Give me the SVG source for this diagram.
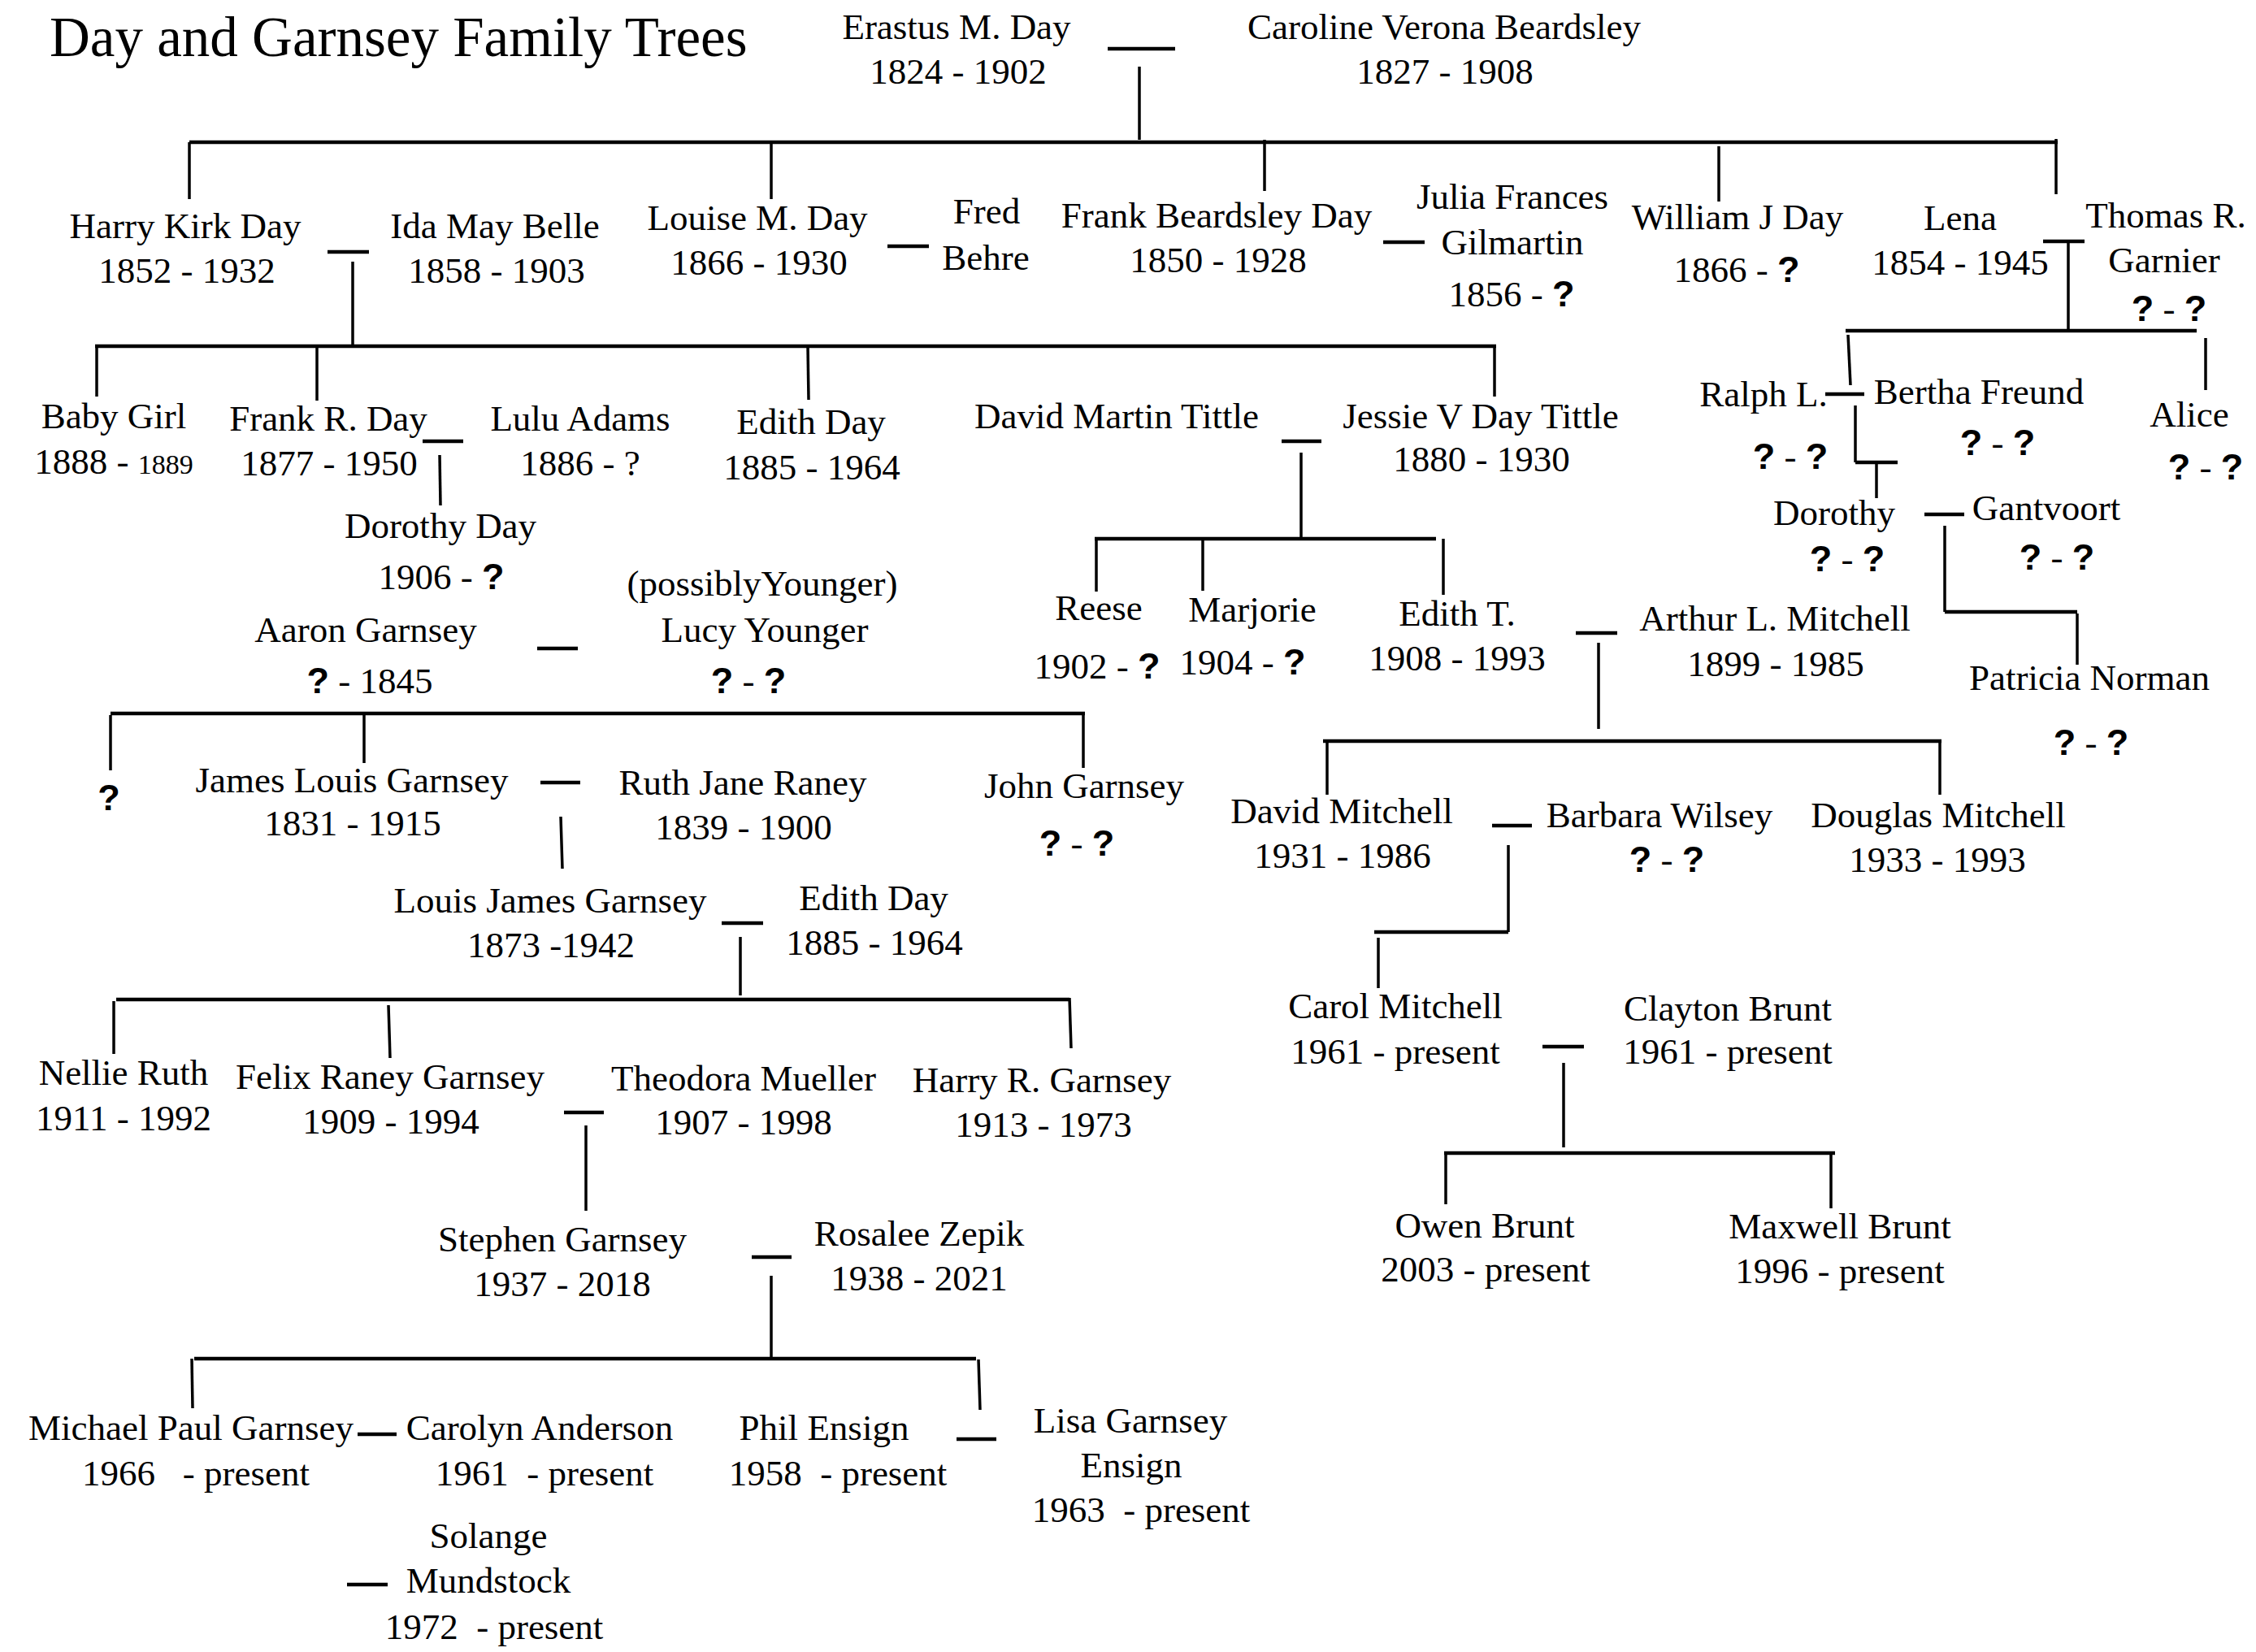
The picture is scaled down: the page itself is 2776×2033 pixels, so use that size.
<svg xmlns="http://www.w3.org/2000/svg" width="2776" height="2033" viewBox="0 0 2776 2033">
<style>
text{font-family:"Liberation Serif","Times New Roman",serif;font-size:45px;fill:#000;text-anchor:middle;white-space:pre}
.title{font-size:69px;text-anchor:start}
.q{font-family:"Liberation Sans",Arial,sans-serif;font-weight:bold}
.sm{font-size:34px}
#connectors line{stroke:#000;stroke-linecap:butt}
#connectors .h{stroke-width:4.5}
#connectors .v{stroke-width:3.5}
</style>
<rect width="2776" height="2033" fill="#fff"/>
<text class="title" x="61" y="69">Day and Garnsey Family Trees</text>

<g id="connectors">
<line class="h" x1="1363" y1="60" x2="1446" y2="60"/>
<line class="v" x1="1402" y1="82" x2="1402" y2="172"/>
<line class="h" x1="233" y1="175" x2="2532" y2="175"/>
<line class="v" x1="233" y1="175" x2="233" y2="245"/>
<line class="v" x1="949" y1="175" x2="949" y2="245"/>
<line class="v" x1="1556" y1="172" x2="1556" y2="235"/>
<line class="v" x1="2115" y1="180" x2="2115" y2="248"/>
<line class="v" x1="2530" y1="171" x2="2530" y2="239"/>
<line class="h" x1="403" y1="310" x2="454" y2="310"/>
<line class="v" x1="434" y1="322" x2="434" y2="426"/>
<line class="h" x1="117" y1="426" x2="1841" y2="426"/>
<line class="v" x1="119" y1="428" x2="119" y2="488"/>
<line class="v" x1="390" y1="426" x2="390" y2="493"/>
<line class="v" x1="994" y1="426" x2="995" y2="492"/>
<line class="v" x1="1839" y1="426" x2="1839" y2="488"/>
<line class="h" x1="1092" y1="303" x2="1143" y2="303"/>
<line class="h" x1="1702" y1="298" x2="1753" y2="298"/>
<line class="h" x1="2514" y1="297" x2="2565" y2="297"/>
<line class="v" x1="2545" y1="297" x2="2545" y2="405"/>
<line class="h" x1="2271" y1="407" x2="2703" y2="407"/>
<line class="v" x1="2274" y1="412" x2="2277" y2="474"/>
<line class="v" x1="2714" y1="416" x2="2714" y2="480"/>
<line class="h" x1="2246" y1="485" x2="2294" y2="485"/>
<line class="v" x1="2283" y1="499" x2="2283" y2="569"/>
<line class="h" x1="2283" y1="569" x2="2335" y2="569"/>
<line class="v" x1="2309" y1="569" x2="2309" y2="613"/>
<line class="h" x1="2368" y1="633" x2="2417" y2="633"/>
<line class="v" x1="2393" y1="647" x2="2393" y2="753"/>
<line class="h" x1="2393" y1="753" x2="2556" y2="753"/>
<line class="v" x1="2556" y1="755" x2="2556" y2="818"/>
<line class="h" x1="520" y1="543" x2="570" y2="543"/>
<line class="v" x1="541" y1="560" x2="542" y2="622"/>
<line class="h" x1="1577" y1="543" x2="1626" y2="543"/>
<line class="v" x1="1601" y1="557" x2="1601" y2="663"/>
<line class="h" x1="1347" y1="663" x2="1767" y2="663"/>
<line class="v" x1="1349" y1="663" x2="1349" y2="728"/>
<line class="v" x1="1480" y1="663" x2="1480" y2="727"/>
<line class="v" x1="1776" y1="663" x2="1776" y2="732"/>
<line class="h" x1="1939" y1="779" x2="1990" y2="779"/>
<line class="v" x1="1967" y1="791" x2="1967" y2="897"/>
<line class="h" x1="1628" y1="912" x2="2389" y2="912"/>
<line class="v" x1="1633" y1="914" x2="1633" y2="978"/>
<line class="v" x1="2387" y1="912" x2="2387" y2="978"/>
<line class="h" x1="1836" y1="1016" x2="1885" y2="1016"/>
<line class="v" x1="1856" y1="1040" x2="1856" y2="1147"/>
<line class="h" x1="1691" y1="1147" x2="1856" y2="1147"/>
<line class="v" x1="1696" y1="1154" x2="1696" y2="1216"/>
<line class="h" x1="1898" y1="1288" x2="1949" y2="1288"/>
<line class="v" x1="1924" y1="1308" x2="1924" y2="1412"/>
<line class="h" x1="1777" y1="1419" x2="2258" y2="1419"/>
<line class="v" x1="1779" y1="1421" x2="1779" y2="1482"/>
<line class="v" x1="2253" y1="1421" x2="2253" y2="1487"/>
<line class="h" x1="661" y1="798" x2="711" y2="798"/>
<line class="h" x1="136" y1="878" x2="1335" y2="878"/>
<line class="v" x1="136" y1="880" x2="136" y2="948"/>
<line class="v" x1="448" y1="878" x2="448" y2="939"/>
<line class="v" x1="1333" y1="878" x2="1333" y2="945"/>
<line class="h" x1="665" y1="963" x2="714" y2="963"/>
<line class="v" x1="690" y1="1005" x2="692" y2="1069"/>
<line class="h" x1="888" y1="1136" x2="939" y2="1136"/>
<line class="v" x1="911" y1="1153" x2="911" y2="1225"/>
<line class="h" x1="143" y1="1230" x2="1316" y2="1230"/>
<line class="v" x1="140" y1="1232" x2="140" y2="1297"/>
<line class="v" x1="478" y1="1237" x2="480" y2="1302"/>
<line class="v" x1="1316" y1="1228" x2="1318" y2="1290"/>
<line class="h" x1="694" y1="1369" x2="743" y2="1369"/>
<line class="v" x1="721" y1="1385" x2="721" y2="1490"/>
<line class="h" x1="925" y1="1547" x2="974" y2="1547"/>
<line class="v" x1="949" y1="1570" x2="949" y2="1672"/>
<line class="h" x1="239" y1="1672" x2="1201" y2="1672"/>
<line class="v" x1="236" y1="1672" x2="237" y2="1733"/>
<line class="v" x1="1204" y1="1673" x2="1206" y2="1735"/>
<line class="h" x1="440" y1="1765" x2="488" y2="1765"/>
<line class="h" x1="427" y1="1950" x2="477" y2="1950"/>
<line class="h" x1="1177" y1="1771" x2="1226" y2="1771"/>
</g>

<g id="erastus"><text x="1177" y="48">Erastus M. Day</text><text x="1179" y="103">1824 - 1902</text></g>
<g id="caroline"><text x="1777" y="48">Caroline Verona Beardsley</text><text x="1778" y="103">1827 - 1908</text></g>
<g id="harry"><text x="228" y="293">Harry Kirk Day</text><text x="230" y="348">1852 - 1932</text></g>
<g id="ida"><text x="609" y="293">Ida May Belle</text><text x="611" y="348">1858 - 1903</text></g>
<g id="louise"><text x="932" y="283">Louise M. Day</text><text x="934" y="338">1866 - 1930</text></g>
<g id="fred"><text x="1214" y="275">Fred</text><text x="1213" y="332">Behre</text></g>
<g id="frankb"><text x="1497" y="280">Frank Beardsley Day</text><text x="1499" y="335">1850 - 1928</text></g>
<g id="julia"><text x="1861" y="257">Julia Frances</text><text x="1861" y="313">Gilmartin</text><text x="1860" y="377">1856 - <tspan class="q">?</tspan></text></g>
<g id="william"><text x="2138" y="282">William J Day</text><text x="2137" y="347">1866 - <tspan class="q">?</tspan></text></g>
<g id="lena"><text x="2412" y="283">Lena</text><text x="2412" y="338">1854 - 1945</text></g>
<g id="thomas"><text x="2665" y="280">Thomas R.</text><text x="2663" y="335">Garnier</text><text x="2669" y="395"><tspan class="q">?</tspan> - <tspan class="q">?</tspan></text></g>
<g id="babygirl"><text x="140" y="527">Baby Girl</text><text x="140" y="583">1888 - <tspan class="sm">1889</tspan></text></g>
<g id="frankr"><text x="404" y="530">Frank R. Day</text><text x="405" y="585">1877 - 1950</text></g>
<g id="lulu"><text x="714" y="530">Lulu Adams</text><text x="714" y="585">1886 - ?</text></g>
<g id="edith1"><text x="998" y="534">Edith Day</text><text x="999" y="590">1885 - 1964</text></g>
<g id="davidtittle"><text x="1374" y="527">David Martin Tittle</text></g>
<g id="jessie"><text x="1822" y="527">Jessie V Day Tittle</text><text x="1823" y="580">1880 - 1930</text></g>
<g id="dorothyday"><text x="542" y="662">Dorothy Day</text><text x="543" y="725">1906 - <tspan class="q">?</tspan></text></g>
<g id="aaron"><text x="450" y="790">Aaron Garnsey</text><text x="455" y="853"><tspan class="q">?</tspan> - 1845</text></g>
<g id="lucy"><text x="938" y="733">(possiblyYounger)</text><text x="941" y="790">Lucy Younger</text><text x="921" y="853"><tspan class="q">?</tspan> - <tspan class="q">?</tspan></text></g>
<g id="reese"><text x="1352" y="763">Reese</text><text x="1350" y="835">1902 - <tspan class="q">?</tspan></text></g>
<g id="marjorie"><text x="1541" y="765">Marjorie</text><text x="1529" y="830">1904 - <tspan class="q">?</tspan></text></g>
<g id="editht"><text x="1793" y="770">Edith T.</text><text x="1793" y="825">1908 - 1993</text></g>
<g id="arthur"><text x="2184" y="776">Arthur L. Mitchell</text><text x="2185" y="832">1899 - 1985</text></g>
<g id="ralph"><text x="2170" y="500">Ralph L.</text><text x="2203" y="577"><tspan class="q">?</tspan> - <tspan class="q">?</tspan></text></g>
<g id="bertha"><text x="2435" y="497">Bertha Freund</text><text x="2458" y="560"><tspan class="q">?</tspan> - <tspan class="q">?</tspan></text></g>
<g id="alice"><text x="2694" y="525">Alice</text><text x="2714" y="590"><tspan class="q">?</tspan> - <tspan class="q">?</tspan></text></g>
<g id="dorothy"><text x="2257" y="646">Dorothy</text><text x="2273" y="703"><tspan class="q">?</tspan> - <tspan class="q">?</tspan></text></g>
<g id="gantvoort"><text x="2518" y="640">Gantvoort</text><text x="2531" y="701"><tspan class="q">?</tspan> - <tspan class="q">?</tspan></text></g>
<g id="patricia"><text x="2571" y="849">Patricia Norman</text><text x="2573" y="929"><tspan class="q">?</tspan> - <tspan class="q">?</tspan></text></g>
<g id="unknown"><text class="q" x="134" y="997">?</text></g>
<g id="james"><text x="433" y="975">James Louis Garnsey</text><text x="434" y="1028">1831 - 1915</text></g>
<g id="ruth"><text x="914" y="978">Ruth Jane Raney</text><text x="915" y="1033">1839 - 1900</text></g>
<g id="john"><text x="1334" y="982">John Garnsey</text><text x="1325" y="1053"><tspan class="q">?</tspan> - <tspan class="q">?</tspan></text></g>
<g id="louis"><text x="677" y="1123">Louis James Garnsey</text><text x="678" y="1178">1873 -1942</text></g>
<g id="edith2"><text x="1075" y="1120">Edith Day</text><text x="1076" y="1175">1885 - 1964</text></g>
<g id="nellie"><text x="152" y="1335">Nellie Ruth</text><text x="152" y="1391">1911 - 1992</text></g>
<g id="felix"><text x="480" y="1340">Felix Raney Garnsey</text><text x="481" y="1395">1909 - 1994</text></g>
<g id="theodora"><text x="915" y="1342">Theodora Mueller</text><text x="915" y="1396">1907 - 1998</text></g>
<g id="harryr"><text x="1282" y="1344">Harry R. Garnsey</text><text x="1284" y="1399">1913 - 1973</text></g>
<g id="stephen"><text x="692" y="1540">Stephen Garnsey</text><text x="692" y="1595">1937 - 2018</text></g>
<g id="rosalee"><text x="1131" y="1533">Rosalee Zepik</text><text x="1131" y="1588">1938 - 2021</text></g>
<g id="michael"><text x="235" y="1772">Michael Paul Garnsey</text><text x="241" y="1828" xml:space="preserve">1966   - present</text></g>
<g id="carolyn"><text x="664" y="1772">Carolyn Anderson</text><text x="670" y="1828" xml:space="preserve">1961  - present</text></g>
<g id="solange"><text x="601" y="1905">Solange</text><text x="601" y="1960">Mundstock</text><text x="608" y="2017" xml:space="preserve">1972  - present</text></g>
<g id="phil"><text x="1014" y="1772">Phil Ensign</text><text x="1031" y="1828" xml:space="preserve">1958  - present</text></g>
<g id="lisa"><text x="1391" y="1763">Lisa Garnsey</text><text x="1392" y="1818">Ensign</text><text x="1404" y="1873" xml:space="preserve">1963  - present</text></g>
<g id="davidmitchell"><text x="1651" y="1013">David Mitchell</text><text x="1652" y="1068">1931 - 1986</text></g>
<g id="barbara"><text x="2042" y="1018">Barbara Wilsey</text><text x="2051" y="1073"><tspan class="q">?</tspan> - <tspan class="q">?</tspan></text></g>
<g id="douglas"><text x="2385" y="1018">Douglas Mitchell</text><text x="2384" y="1073">1933 - 1993</text></g>
<g id="carol"><text x="1717" y="1253">Carol Mitchell</text><text x="1717" y="1309">1961 - present</text></g>
<g id="clayton"><text x="2126" y="1256">Clayton Brunt</text><text x="2126" y="1309">1961 - present</text></g>
<g id="owen"><text x="1827" y="1523">Owen Brunt</text><text x="1828" y="1577">2003 - present</text></g>
<g id="maxwell"><text x="2264" y="1524">Maxwell Brunt</text><text x="2264" y="1579">1996 - present</text></g>
</svg>
